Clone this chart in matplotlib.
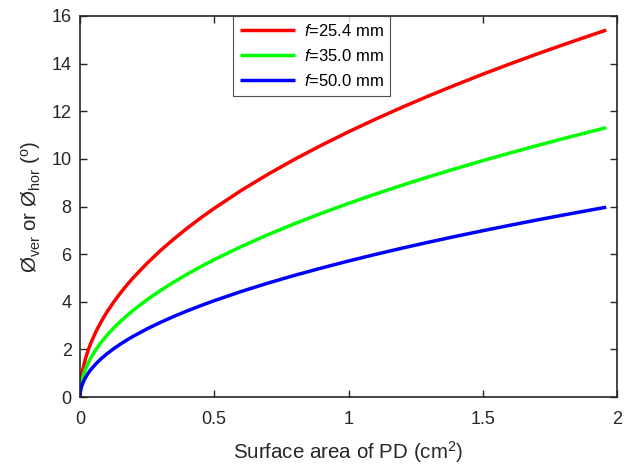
import matplotlib
matplotlib.use('Agg')
from matplotlib import pyplot as plt

plt.rcParams['font.family'] = ['Liberation Sans', 'DejaVu Sans']
plt.rcParams['mathtext.fontset'] = 'custom'
plt.rcParams['mathtext.rm'] = 'Liberation Sans'
plt.rcParams['mathtext.it'] = 'Liberation Sans:italic'

# surface area of PD (cm^2)
area = [0, 0.001, 0.002, 0.005, 0.01, 0.02, 0.03, 0.04, 0.06, 0.08, 0.1, 0.125,
        0.15, 0.175, 0.2, 0.25, 0.3, 0.35, 0.4, 0.45, 0.5, 0.6, 0.7, 0.8, 0.9,
        1.0, 1.1, 1.2, 1.3, 1.4, 1.5, 1.6, 1.7, 1.8, 1.9, 1.96]

# angle (deg) for each focal length
f254 = [0, 0.357, 0.504, 0.798, 1.128, 1.595, 1.953, 2.255, 2.761, 3.187, 3.562,
        3.980, 4.360, 4.708, 5.031, 5.618, 6.154, 6.641, 7.097, 7.523, 7.924,
        8.670, 9.353, 9.986, 10.578, 11.136, 11.665, 12.169, 12.650, 13.111,
        13.555, 13.982, 14.395, 14.794, 15.181, 15.408]
f350 = [0, 0.259, 0.366, 0.579, 0.819, 1.157, 1.417, 1.637, 2.004, 2.314, 2.587,
        2.892, 3.167, 3.420, 3.656, 4.087, 4.474, 4.831, 5.163, 5.474, 5.768,
        6.314, 6.816, 7.282, 7.718, 8.130, 8.521, 8.894, 9.251, 9.594, 9.924,
        10.243, 10.551, 10.850, 11.140, 11.310]
f500 = [0, 0.181, 0.256, 0.405, 0.573, 0.810, 0.992, 1.146, 1.403, 1.620, 1.811,
        2.025, 2.218, 2.396, 2.561, 2.863, 3.135, 3.386, 3.619, 3.838, 4.045,
        4.429, 4.783, 5.111, 5.419, 5.711, 5.987, 6.252, 6.505, 6.748, 6.983,
        7.209, 7.429, 7.641, 7.848, 7.970]

labels = ['$\\it{f}$=25.4 mm', '$\\it{f}$=35.0 mm', '$\\it{f}$=50.0 mm']
colors = ['#ff0000', '#00ff00', '#0000ff']

fig = plt.figure(figsize=(6.43, 4.66), dpi=100)
ax = fig.add_axes([80 / 643, 69 / 466, 537 / 643, 381 / 466])

for ys, lab, c in zip([f254, f350, f500], labels, colors):
    ax.plot(area, ys, color=c, lw=2.5, label=lab, solid_capstyle='butt')

ax.set_xlim(0, 2)
ax.set_ylim(0, 16)
ax.set_xticks([0, 0.5, 1, 1.5, 2])
ax.set_xticklabels(['0', '0.5', '1', '1.5', '2'])
ax.set_yticks(range(0, 17, 2))
ax.tick_params(direction='in', top=True, right=True, length=5, width=1,
               labelsize=13, colors='#262626')
ax.tick_params(axis='x', pad=10)
ax.tick_params(axis='y', pad=6)
for s in ax.spines.values():
    s.set_linewidth(1.2)
    s.set_color('#262626')

ax.set_xlabel('Surface area of PD (cm$^2$)', fontsize=14.8, color='#262626', labelpad=8)
ax.set_ylabel('Ø$_{\\mathrm{ver}}$ or Ø$_{\\mathrm{hor}}$ ($^{\\mathrm{o}}$)',
              fontsize=14.8, color='#262626', labelpad=6)

leg = ax.legend(loc='upper left', bbox_to_anchor=(0.285, 1.0), fontsize=12,
                frameon=True, fancybox=False, edgecolor='#262626',
                handlelength=3.3, borderpad=0.4, labelspacing=0.55,
                handletextpad=0.55, borderaxespad=0)
leg.get_frame().set_linewidth(0.8)

fig.savefig('out.png', dpi=100, facecolor='white')
